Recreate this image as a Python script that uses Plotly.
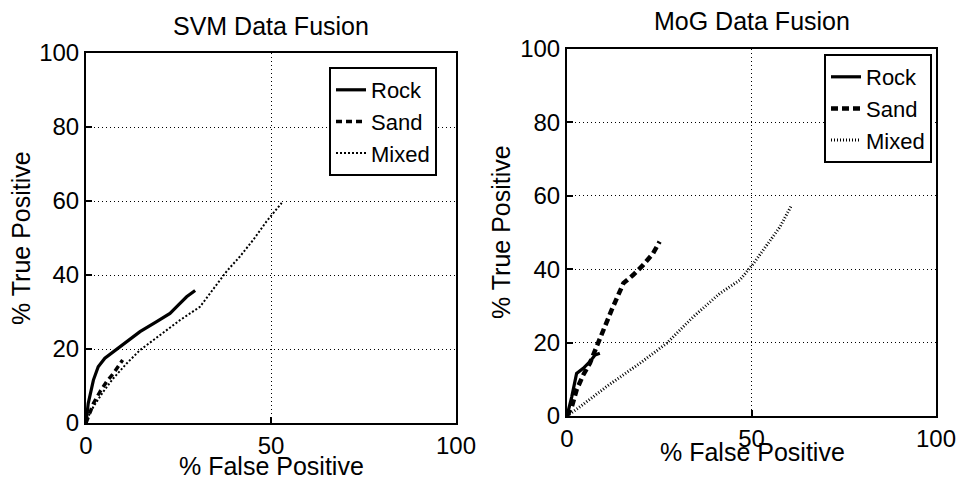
import plotly.graph_objects as go

# ---- data ----
svm_rock_x = [0, 0.6, 2.0, 3.3, 5.1, 7.4, 11.0, 14.6, 19.1, 22.7, 25.0, 27.2, 29.5]
svm_rock_y = [0, 5.3, 11.6, 15.2, 17.5, 19.3, 22.0, 24.7, 27.4, 29.6, 31.9, 34.1, 35.8]
svm_sand_x = [0, 1.1, 2.0, 3.8, 5.6, 7.4, 9.6, 9.9]
svm_sand_y = [0, 3.1, 5.3, 8.5, 11.2, 13.4, 16.6, 17.0]
svm_mixed_x = [0, 0.6, 2.0, 4.7, 7.4, 11.0, 14.6, 20.0, 25.4, 30.8, 34.2, 38.0, 41.6, 45.2, 48.8, 52.9]
svm_mixed_y = [0, 1.7, 4.4, 8.5, 12.1, 16.1, 19.7, 23.8, 27.8, 31.4, 36.0, 41.0, 45.0, 49.5, 54.5, 59.5]

mog_rock_x = [0, 1.3, 2.6, 4.4, 6.2, 7.6, 8.9]
mog_rock_y = [0, 5.3, 11.6, 13.0, 14.8, 16.6, 17.1]
mog_sand_x = [0, 1.3, 2.6, 4.4, 6.2, 8.0, 9.8, 12.1, 15.3, 17.9, 20.6, 23.3, 25.1]
mog_sand_y = [0, 2.5, 7.1, 11.2, 14.4, 18.9, 23.5, 28.9, 36.2, 38.4, 41.1, 44.3, 47.5]
mog_mixed_x = [0, 3.5, 10.7, 19.8, 27.0, 34.2, 41.4, 46.8, 50.5, 55.0, 57.7, 60.9]
mog_mixed_y = [0, 2.5, 8.0, 14.4, 19.8, 27.0, 33.4, 37.0, 41.5, 47.9, 51.5, 57.5]

titles = ["SVM Data Fusion", "MoG Data Fusion"]
series_names = ["Rock", "Sand", "Mixed"]
x_ticks = [0, 50, 100]
y_ticks = [0, 20, 40, 60, 80, 100]

W, H = 960, 479
FONT = "Liberation Sans, Arial, Helvetica, sans-serif"
FS = 24

def px_x(p):
    return p / W

def px_y(p):
    return 1 - p / H

fig = go.Figure()

styles = [
    dict(color="black", width=3.2, dash="solid"),
    dict(color="black", width=3.5, dash="6px,4px"),
    dict(color="black", width=2.0, dash="2px,2px"),
]
styles_r = [
    dict(color="black", width=3.2, dash="solid"),
    dict(color="black", width=4.5, dash="7px,4px"),
    dict(color="black", width=3.0, dash="1px,2px"),
]

left = [(svm_rock_x, svm_rock_y), (svm_sand_x, svm_sand_y), (svm_mixed_x, svm_mixed_y)]
right = [(mog_rock_x, mog_rock_y), (mog_sand_x, mog_sand_y), (mog_mixed_x, mog_mixed_y)]

for (xs, ys), name, st in zip(left, series_names, styles):
    fig.add_trace(go.Scatter(x=xs, y=ys, mode="lines", name=name, line=st,
                             xaxis="x", yaxis="y", legend="legend"))
for (xs, ys), name, st in zip(right, series_names, styles_r):
    fig.add_trace(go.Scatter(x=xs, y=ys, mode="lines", name=name, line=st,
                             xaxis="x2", yaxis="y2", legend="legend2"))

axis_common = dict(
    range=[0, 100], showline=True, linecolor="black", linewidth=2, mirror=True,
    ticks="inside", ticklen=6, tickwidth=1.5, tickcolor="black",
    showgrid=True, gridcolor="black", griddash="1px,3px", gridwidth=1,
    zeroline=False, tickfont=dict(family=FONT, size=FS, color="black"),
    fixedrange=True, automargin=False,
)

LFS = 22
fig.update_layout(
    width=W, height=H,
    margin=dict(l=0, r=0, t=0, b=0, autoexpand=False),
    paper_bgcolor="white", plot_bgcolor="white",
    font=dict(family=FONT, color="black"),
    xaxis=dict(domain=[px_x(86), px_x(456)], anchor="y", tickvals=x_ticks, **axis_common),
    yaxis=dict(domain=[px_y(423), px_y(53)], anchor="x", tickvals=y_ticks, **axis_common),
    xaxis2=dict(domain=[px_x(567), px_x(936)], anchor="y2", tickvals=x_ticks, **axis_common),
    yaxis2=dict(domain=[px_y(416), px_y(49)], anchor="x2", tickvals=y_ticks, **axis_common),
    legend=dict(x=px_x(437), y=px_y(67), xanchor="right", yanchor="top",
                bgcolor="white", bordercolor="black", borderwidth=2,
                font=dict(family=FONT, size=LFS, color="black"), tracegroupgap=0),
    legend2=dict(x=px_x(932), y=px_y(54), xanchor="right", yanchor="top",
                 bgcolor="white", bordercolor="black", borderwidth=2,
                 font=dict(family=FONT, size=LFS, color="black"), tracegroupgap=0),
    showlegend=True,
)

TFS = 25
ann_font = dict(family=FONT, size=TFS, color="black")
anns = [
    dict(text=titles[0], x=px_x(271), y=px_y(26)),
    dict(text=titles[1], x=px_x(752), y=px_y(21)),
    dict(text="% False Positive", x=px_x(271), y=px_y(466)),
    dict(text="% False Positive", x=px_x(752), y=px_y(452)),
    dict(text="% True Positive", x=px_x(21), y=px_y(238), textangle=-90),
    dict(text="% True Positive", x=px_x(501), y=px_y(232), textangle=-90),
]
for a in anns:
    fig.add_annotation(xref="paper", yref="paper", showarrow=False,
                       xanchor="center", yanchor="middle", font=ann_font, **a)

fig.write_html(
    "out.html",
    config={"displayModeBar": False},
    post_script="document.body.style.margin='0';document.body.style.overflow='hidden';",
)
